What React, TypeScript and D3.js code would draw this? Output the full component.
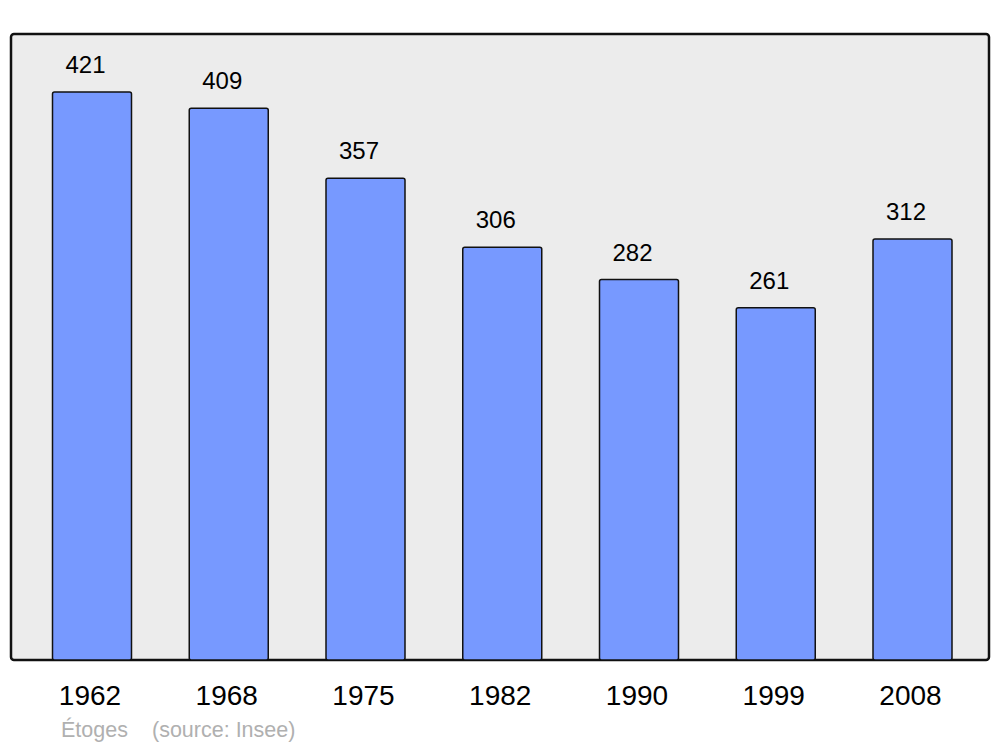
import React from 'react';
import * as d3 from 'd3';

const years = ['1962', '1968', '1975', '1982', '1990', '1999', '2008'];
const population = [421, 409, 357, 306, 282, 261, 312];
const commune = 'Étoges';
const source = '(source: Insee)';

const width = 1000;
const height = 747;
const frame = { left: 11, right: 989, top: 34, bottom: 660 };
const barWidth = 79;

export default function App() {
  const x = d3.scalePoint<string>().domain(years).range([92, 912.5]);
  const y = d3.scaleLinear().domain([0, 421]).range([frame.bottom, 92]);

  return (
    <svg
      width={width}
      height={height}
      style={{ position: 'absolute', left: 0, top: 0, fontFamily: 'Liberation Sans, Arial, sans-serif' }}
    >
      <rect x={0} y={0} width={width} height={height} fill="#ffffff" />
      <rect
        x={frame.left}
        y={frame.top}
        width={frame.right - frame.left}
        height={frame.bottom - frame.top}
        rx={3}
        fill="#ececec"
        stroke="#111"
        strokeWidth={2.5}
      />
      {population.map((v, i) => {
        const cx = x(years[i]) ?? 0;
        return (
          <g key={years[i]}>
            <rect
              x={cx - barWidth / 2}
              y={y(v)}
              width={barWidth}
              height={y(0) - y(v)}
              rx={2}
              fill="#7799ff"
              stroke="#111"
              strokeWidth={1.5}
            />
            <text x={cx - 6.5} y={y(v) - 19} textAnchor="middle" fontSize={24} fill="#000">
              {v}
            </text>
            <text x={cx - 2} y={705} textAnchor="middle" fontSize={28} fill="#000">
              {years[i]}
            </text>
          </g>
        );
      })}
      <text x={61} y={737} fontSize={21.5} fill="#b0b0b0">{commune}</text>
      <text x={152} y={737} fontSize={21.5} fill="#b0b0b0">{source}</text>
    </svg>
  );
}
